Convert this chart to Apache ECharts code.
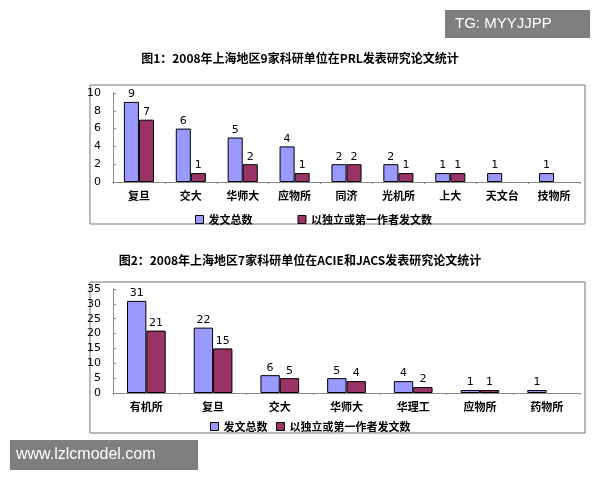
<!DOCTYPE html>
<html><head><meta charset="utf-8">
<script src="https://cdn.jsdelivr.net/npm/echarts@6/dist/echarts.min.js"></script>
<style>body{margin:0;background:#fff}#c{width:600px;height:480px}</style>
</head><body><div id="c"></div>
<script>
var cats1 = ['复旦', '交大', '华师大', '应物所', '同济', '光机所', '上大', '天文台', '技物所'];
var total1 = [9, 6, 5, 4, 2, 2, 1, 1, 1];
var first1 = [7, 1, 2, 1, 2, 1, 1, null, null];
var cats2 = ['有机所', '复旦', '交大', '华师大', '华理工', '应物所', '药物所'];
var total2 = [31, 22, 6, 5, 4, 1, 1];
var first2 = [21, 15, 5, 4, 2, 1, null];
var ticks1 = [0, 2, 4, 6, 8, 10];
var ticks2 = [0, 5, 10, 15, 20, 25, 30, 35];

var font = '"Noto Sans CJK SC", sans-serif';
var blue = '#9999ff', red = '#993366';
var chart = echarts.init(document.getElementById('c'));

function bar(name, data, color, x, y) {
  return {
    type: 'bar', name: name, data: data, xAxisIndex: x, yAxisIndex: y,
    barGap: '0%', barCategoryGap: '42%',
    itemStyle: { color: color, borderColor: '#000', borderWidth: 1 },
    label: { show: true, position: 'top', color: '#000', fontSize: 11, fontFamily: 'DejaVu Sans', distance: 2 }
  };
}
function yAx(ticks, grid) {
  return {
    gridIndex: grid, min: ticks[0], max: ticks[ticks.length - 1], interval: ticks[1] - ticks[0],
    splitLine: { show: false }, axisLine: { show: true, lineStyle: { color: '#888' } },
    axisTick: { show: true, inside: true, length: 3 },
    axisLabel: { color: '#000', fontSize: 11, fontFamily: 'DejaVu Sans', margin: 12 }
  };
}
function xAx(cats, grid) {
  return {
    type: 'category', data: cats, gridIndex: grid,
    axisLine: { lineStyle: { color: '#888' } }, axisTick: { show: true, length: 2 },
    axisLabel: { color: '#000', fontSize: 11, fontWeight: 'bold', fontFamily: font, margin: 8 }
  };
}

chart.setOption({
  animation: false,
  graphic: [
    { type: 'rect', shape: { x: 90, y: 85, width: 495, height: 139 }, style: { fill: 'none', stroke: '#777', lineWidth: 1 } },
    { type: 'rect', shape: { x: 90, y: 282, width: 495, height: 151 }, style: { fill: 'none', stroke: '#777', lineWidth: 1 } },
    { type: 'text', left: 'center', top: 52, style: { text: '图1：2008年上海地区9家科研单位在PRL发表研究论文统计', font: 'bold 12px "Noto Sans CJK SC"', fill: '#000' } },
    { type: 'text', left: 'center', top: 254, style: { text: '图2：2008年上海地区7家科研单位在ACIE和JACS发表研究论文统计', font: 'bold 12px "Noto Sans CJK SC"', fill: '#000' } },
    { type: 'rect', shape: { x: 445, y: 10, width: 145, height: 28 }, style: { fill: '#7f7f7f' } },
    { type: 'text', x: 455, y: 16, style: { text: 'TG: MYYJJPP', font: '15px "Liberation Sans"', fill: '#fff' } },
    { type: 'rect', shape: { x: 10, y: 440, width: 188, height: 30 }, style: { fill: '#7f7f7f' } },
    { type: 'text', x: 16, y: 447, style: { text: 'www.lzlcmodel.com', font: '16px "Liberation Sans"', fill: '#fff' } }
  ],
  legend: [
    { data: ['发文总数', '以独立或第一作者发文数'], left: 190, top: 209, itemWidth: 8, itemHeight: 8, itemGap: 45, icon: 'rect',
      itemStyle: { borderColor: '#000', borderWidth: 1 },
      textStyle: { fontFamily: font, fontSize: 11, fontWeight: 'bold', color: '#000' } },
    { data: ['发文总数 ', '以独立或第一作者发文数 '], left: 205, top: 416, itemWidth: 8, itemHeight: 8, itemGap: 6, icon: 'rect',
      itemStyle: { borderColor: '#000', borderWidth: 1 },
      textStyle: { fontFamily: font, fontSize: 11, fontWeight: 'bold', color: '#000' } }
  ],
  grid: [
    { left: 113, right: 20, top: 93, height: 89 },
    { left: 113, right: 20, top: 289, height: 104 }
  ],
  xAxis: [xAx(cats1, 0), xAx(cats2, 1)],
  yAxis: [yAx(ticks1, 0), yAx(ticks2, 1)],
  series: [
    bar('发文总数', total1, blue, 0, 0),
    bar('以独立或第一作者发文数', first1, red, 0, 0),
    bar('发文总数 ', total2, blue, 1, 1),
    bar('以独立或第一作者发文数 ', first2, red, 1, 1)
  ]
});
</script></body></html>
